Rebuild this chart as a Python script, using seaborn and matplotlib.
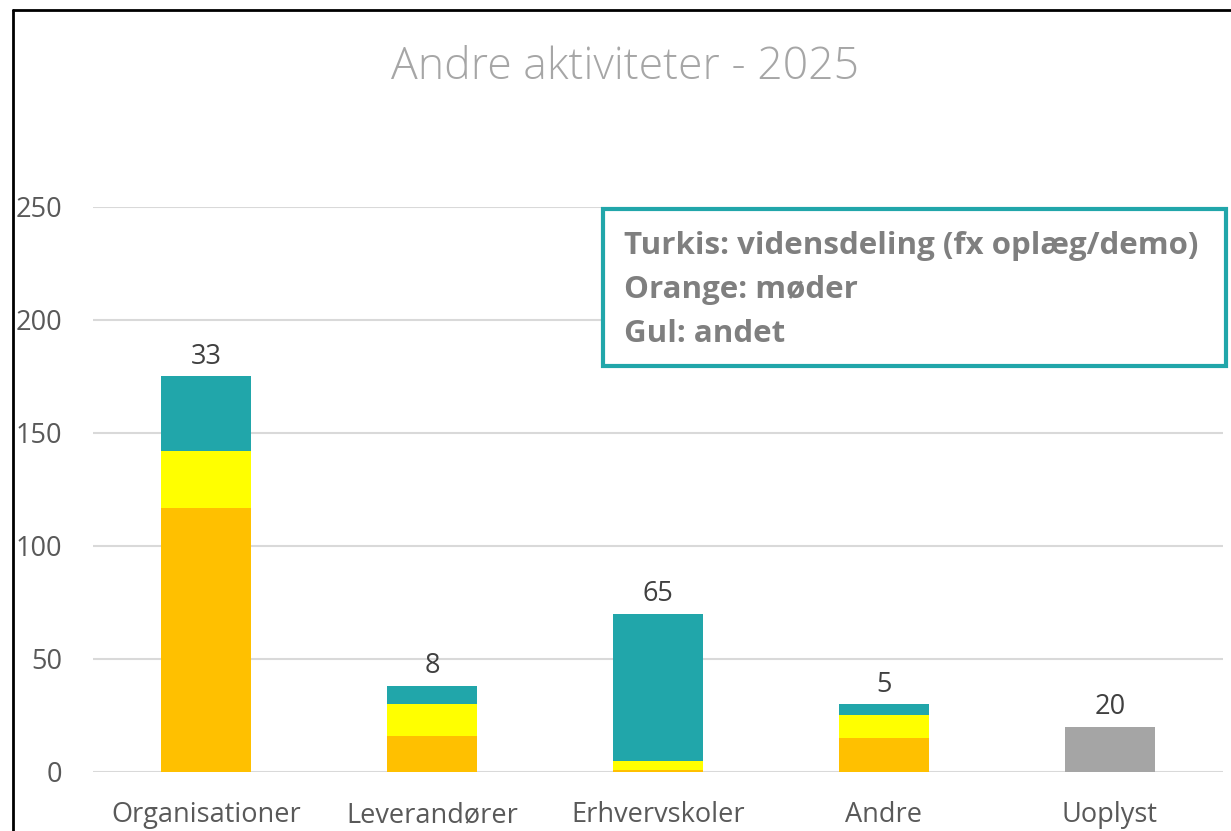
import matplotlib
matplotlib.use("Agg")
import matplotlib.pyplot as plt
import numpy as np
import pandas as pd
import seaborn as sns
from matplotlib.patches import Rectangle
from matplotlib.lines import Line2D

categories = ["Organisationer", "Leverandører", "Erhvervskoler", "Andre", "Uoplyst"]
moeder = [117, 16, 1, 15, 0]       # orange
andet = [25, 14, 4, 10, 0]         # gul
vidensdeling = [33, 8, 65, 5, 0]   # turkis
uoplyst = [0, 0, 0, 0, 20]         # grå
yticks = [0, 50, 100, 150, 200, 250]

TEAL = "#21A6AA"
YELLOW = "#FFFF00"
ORANGE = "#FFC000"
GREY = "#A5A5A5"

sns.set_theme(style="white")
plt.rcParams["font.family"] = ["Open Sans", "DejaVu Sans"]

df = pd.DataFrame({
    "kategori": categories,
    "orange": moeder,
    "gul": andet,
    "turkis": vidensdeling,
    "uoplyst": uoplyst,
})
df["lvl1"] = df["orange"]
df["lvl2"] = df["orange"] + df["gul"]
df["total"] = df["lvl2"] + df["turkis"] + df["uoplyst"]

fig = plt.figure(figsize=(12.31, 8.31), dpi=100)
ax = fig.add_axes([0.0755, 0.071, 0.918, 0.68])

# stacked bars drawn as cumulative layers, top layer first
top_colors = [TEAL if u == 0 else GREY for u in uoplyst]
sns.barplot(data=df, x="kategori", y="total", hue="kategori", palette=top_colors,
            legend=False, width=0.4, ax=ax, saturation=1, linewidth=0, zorder=2)
sns.barplot(data=df, x="kategori", y="lvl2", color=YELLOW, width=0.4, ax=ax,
            saturation=1, linewidth=0, zorder=3)
sns.barplot(data=df, x="kategori", y="lvl1", color=ORANGE, width=0.4, ax=ax,
            saturation=1, linewidth=0, zorder=4)

# data labels
for i, row in df.iterrows():
    val = row["uoplyst"] if row["uoplyst"] else row["turkis"]
    ax.text(i, row["total"] + 2.5, f"{val}", ha="center", va="bottom",
            fontsize=19.5, color="#404040", zorder=5)

ax.set_ylim(0, 250)
ax.set_xlim(-0.5, 4.5)
ax.set_yticks(yticks)
ax.yaxis.grid(True, color="#D9D9D9", linewidth=1.5, zorder=0)
ax.set_axisbelow(True)
for s in ax.spines.values():
    s.set_visible(False)
ax.tick_params(axis="both", length=0, labelsize=19.5, labelcolor="#595959")
ax.tick_params(axis="y", pad=22)
ax.tick_params(axis="x", pad=21)
ax.set_xlabel("")
ax.set_ylabel("")

fig.text(0.508, 0.918, "Andre aktiviteter - 2025", ha="center", va="center",
         fontsize=32, color="#A6A6A6", fontweight="light")

# forklaringsboks
fig.patches.append(Rectangle((0.49, 0.559), 0.506, 0.189, transform=fig.transFigure,
                             facecolor="white", edgecolor=TEAL, linewidth=3, zorder=10))
box_lines = ["Turkis: vidensdeling (fx oplæg/demo)", "Orange: møder", "Gul: andet"]
for k, line in enumerate(box_lines):
    fig.text(0.507, 0.704 - k * 0.053, line, ha="left", va="center", fontsize=22.5,
             color="#7F7F7F", fontweight="bold", zorder=11)

# ramme (venstre og top)
fig.add_artist(Line2D([0.0105, 0.0105], [0, 0.988], transform=fig.transFigure,
                      color="black", linewidth=2))
fig.add_artist(Line2D([0.0105, 1.0], [0.988, 0.988], transform=fig.transFigure,
                      color="black", linewidth=2))

fig.savefig("out.png", dpi=100, facecolor="white")
